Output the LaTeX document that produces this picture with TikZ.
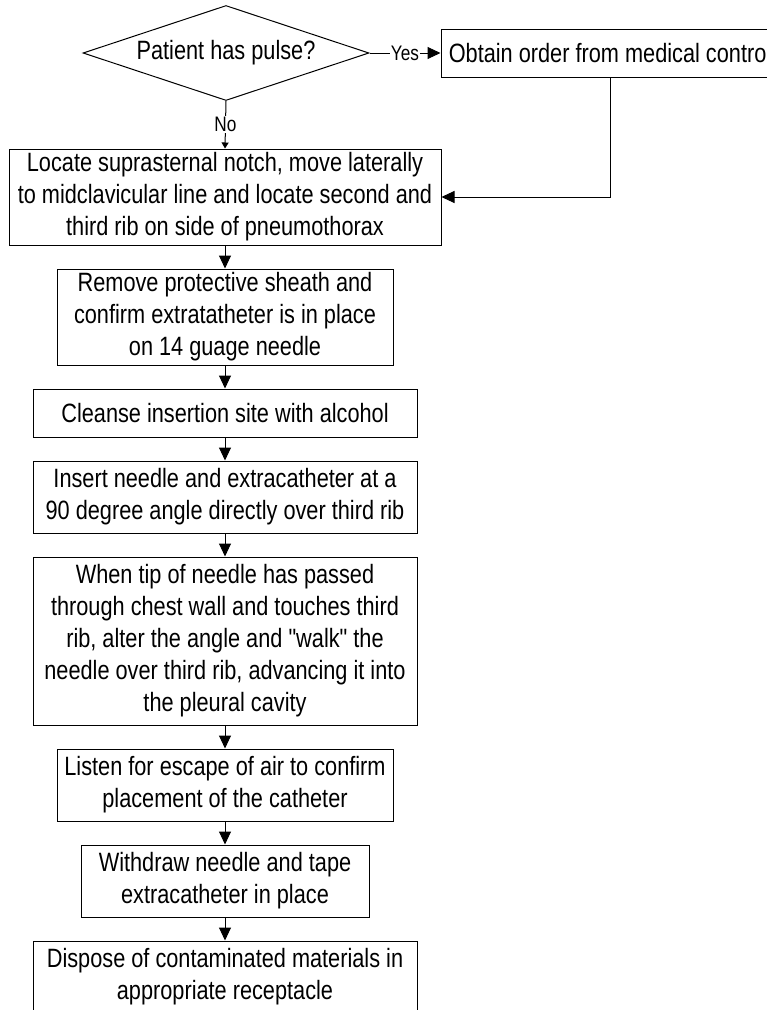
\documentclass[tikz,border=0pt]{standalone}
\usepackage{fontspec}
\setmainfont{Liberation Sans}[FakeStretch=0.82,Ligatures=TeXOff]
\usetikzlibrary{shapes.geometric,arrows.meta}

\begin{document}
\begin{tikzpicture}[x=1pt,y=-1pt,
  box/.style={draw=black,line width=1pt,rectangle,inner sep=0pt,align=center,font=\fontsize{26.5}{32}\selectfont},
  ask/.style={draw=black,line width=1pt,diamond,aspect=3,inner sep=0pt,font=\fontsize{26.5}{32}\selectfont},
  flow/.style={line width=1pt,-{Triangle[length=13pt,width=12pt]}},
  tag/.style={fill=white,inner sep=1pt,font=\fontsize{21}{24}\selectfont}]

\useasboundingbox (0,0) rectangle (767,1010);

% Decision

\node[ask,minimum width=286pt,minimum height=95pt] (Q_1) at (226,53) {Patient has pulse?};
\node[box,minimum width=338pt,minimum height=48pt] (A_1) at (610,53) {Obtain order from medical control};
\draw[flow] (Q_1.east) -- node[tag]{Yes} (A_1.west);

% Steps

\node[box,minimum width=432pt,minimum height=96pt] (S_1) at (225,197)
  {Locate suprasternal notch, move laterally\\to midclavicular line and locate second and\\third rib on side of pneumothorax};
\node[box,minimum width=336pt,minimum height=96pt] (S_2) at (225,317)
  {Remove protective sheath and\\confirm extratatheter is in place\\on 14 guage needle};
\node[box,minimum width=384pt,minimum height=48pt] (S_3) at (225,413)
  {Cleanse insertion site with alcohol};
\node[box,minimum width=384pt,minimum height=72pt] (S_4) at (225,497)
  {Insert needle and extracatheter at a\\90 degree angle directly over third rib};
\node[box,minimum width=384pt,minimum height=168pt] (S_5) at (225,641)
  {When tip of needle has passed\\through chest wall and touches third\\rib, alter the angle and "walk" the\\needle over third rib, advancing it into\\the pleural cavity};
\node[box,minimum width=336pt,minimum height=72pt] (S_6) at (225,785)
  {Listen for escape of air to confirm\\placement of the catheter};
\node[box,minimum width=288pt,minimum height=72pt] (S_7) at (225,881)
  {Withdraw needle and tape\\extracatheter in place};
\node[box,minimum width=384pt,minimum height=72pt] (S_8) at (225,977)
  {Dispose of contaminated materials in\\appropriate receptacle};

% Connectors

\draw[line width=1pt,-{Triangle[length=6pt,width=7pt]}] (Q_1.south) -- node[tag]{No} (S_1.north);
\draw[flow] (A_1.south) |- (S_1.east);
\draw[flow] (S_1.south) -- (S_2.north);
\draw[flow] (S_2.south) -- (S_3.north);
\draw[flow] (S_3.south) -- (S_4.north);
\draw[flow] (S_4.south) -- (S_5.north);
\draw[flow] (S_5.south) -- (S_6.north);
\draw[flow] (S_6.south) -- (S_7.north);
\draw[flow] (S_7.south) -- (S_8.north);

\end{tikzpicture}
\end{document}
